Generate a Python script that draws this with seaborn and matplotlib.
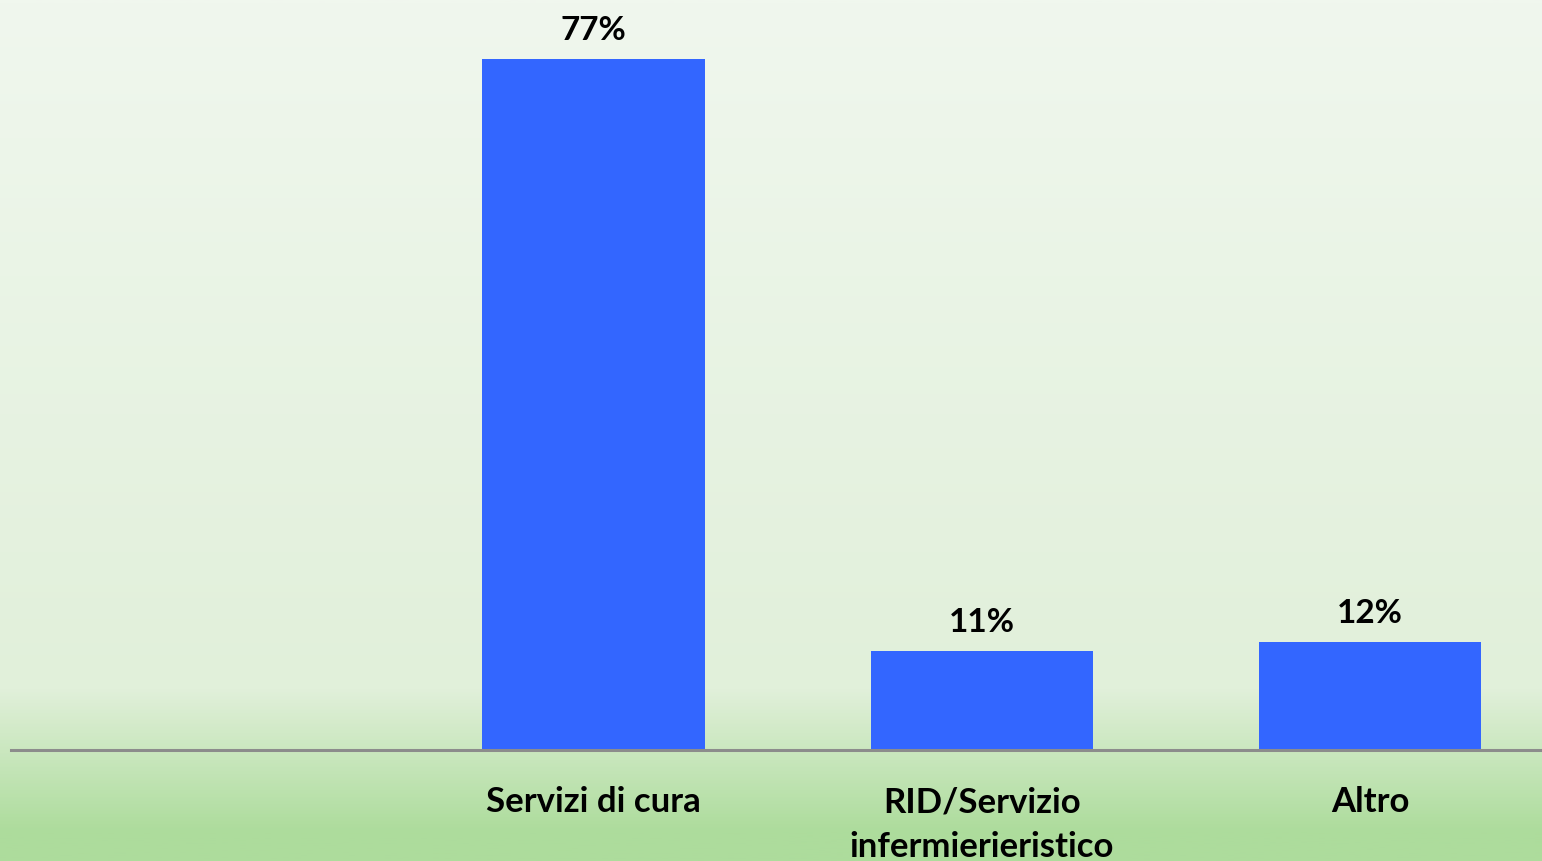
import numpy as np
import pandas as pd
import matplotlib
matplotlib.use("Agg")
import matplotlib.pyplot as plt
from matplotlib.colors import LinearSegmentedColormap
import seaborn as sns

categories = ["", "Servizi di cura", "RID/Servizio\ninfermierieristico", "Altro"]
data_categories = ["Servizi di cura", "RID/Servizio\ninfermierieristico", "Altro"]
values = [77, 11, 12]
value_labels = ["77%", "11%", "12%"]

sns.set_theme(style="white")
plt.rcParams['font.family'] = ['Lato', 'DejaVu Sans']

W, H = 1542, 861
fig = plt.figure(figsize=(W / 100, H / 100), dpi=100)

# background gradient
bg = fig.add_axes([0, 0, 1, 1], zorder=0)
stops = [(0.0, (240, 247, 238)), (690 / H, (225, 240, 218)), (833 / H, (173, 220, 156)), (1.0, (173, 220, 156))]
cmap = LinearSegmentedColormap.from_list("bg", [(p, tuple(c / 255 for c in col)) for p, col in stops])
grad = np.linspace(0, 1, 512).reshape(-1, 1)
bg.imshow(grad, aspect="auto", cmap=cmap, extent=[0, 1, 1, 0])
bg.set_xlim(0, 1)
bg.set_ylim(1, 0)
bg.axis("off")

left, right = 11, 1542
base_y = 750
ax = fig.add_axes([left / W, (H - base_y) / H, (right - left) / W, base_y / H], zorder=1)
ax.patch.set_alpha(0)

df = pd.DataFrame({"cat": data_categories, "val": values})
sns.barplot(data=df, x="cat", y="val", order=categories, color="#3366ff",
            saturation=1, width=0.572, linewidth=0, ax=ax)

slot = 388.3
ax.set_xlim(-0.5, -0.5 + (right - left) / slot)
ax.set_ylim(0, base_y / (691 / 77))

for cont in ax.containers:
    ax.bar_label(cont, labels=value_labels, padding=10, fontsize=24, fontweight="bold", color="black")

ax.set_xlabel("")
ax.set_ylabel("")
ax.set_yticks([])
ax.tick_params(axis="x", length=0, pad=26)
for lbl in ax.get_xticklabels():
    lbl.set_fontsize(25)
    lbl.set_fontweight("bold")
    lbl.set_color("black")
    lbl.set_linespacing(1.5)
for s in ["top", "left", "right"]:
    ax.spines[s].set_visible(False)
ax.spines["bottom"].set_color("#8c8c8c")
ax.spines["bottom"].set_linewidth(2.2)
ax.grid(False)

fig.savefig("out.png", dpi=100)
